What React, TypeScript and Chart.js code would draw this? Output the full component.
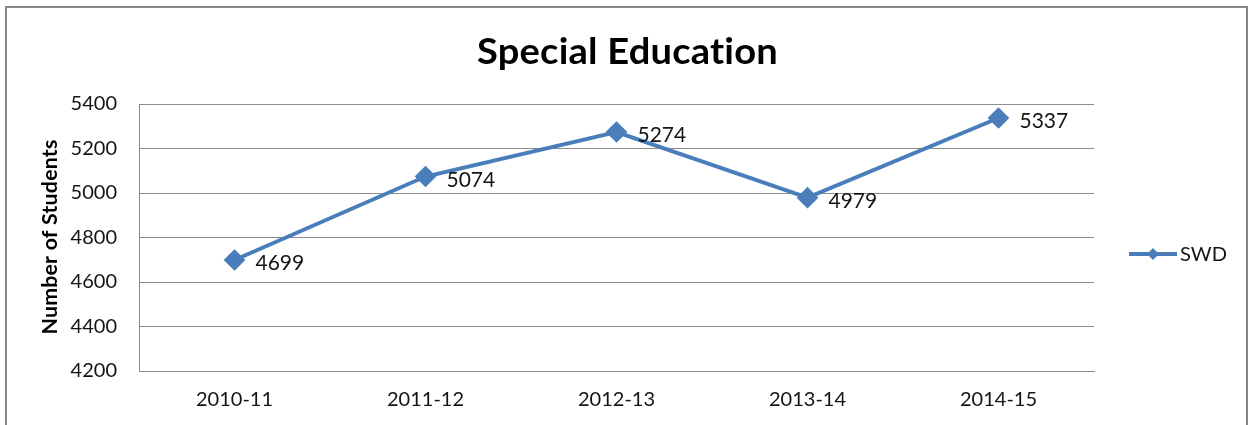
import React, { useEffect, useRef } from "react";
import { Chart, registerables } from "chart.js";

Chart.register(...registerables);

const categories = ["2010-11", "2011-12", "2012-13", "2013-14", "2014-15"];
const swdValues = [4699, 5074, 5274, 4979, 5337];
const yTicks = [4200, 4400, 4600, 4800, 5000, 5200, 5400];
const seriesName = "SWD";
const chartTitle = "Special Education";
const yAxisTitle = "Number of Students";

const LINE_COLOR = "#4A7EBB";
const TEXT_COLOR = "#141414";
const FONT = "Lato, 'Open Sans', sans-serif";

function fitText(ctx: any, text: string, x: number, y: number, width: number) {
  const w = ctx.measureText(text).width;
  ctx.save();
  ctx.translate(x, y);
  ctx.scale(width / w, 1);
  ctx.fillText(text, 0, 0);
  ctx.restore();
}

const decorPlugin = {
  id: "decor",
  afterDraw(chart: any) {
    const ctx = chart.ctx;
    ctx.save();
    // outer border
    ctx.strokeStyle = "#868686";
    ctx.lineWidth = 2;
    ctx.strokeRect(6, 7, 1241, 430);
    // title (no ligatures)
    ctx.fillStyle = "#000";
    ctx.font = `bold 36px ${FONT}`;
    try {
      ctx.textRendering = "optimizeSpeed";
      ctx.letterSpacing = "0.2px";
    } catch (e) {}
    ctx.textAlign = "center";
    ctx.textBaseline = "alphabetic";
    fitText(ctx, chartTitle, 627.5, 64, 301);
    // y-axis title
    ctx.save();
    ctx.translate(57, 237);
    ctx.rotate(-Math.PI / 2);
    ctx.font = `bold 20px ${FONT}`;
    fitText(ctx, yAxisTitle, 0, 0, 195);
    ctx.restore();
    try {
      ctx.letterSpacing = "0px";
    } catch (e) {}
    // data labels
    const meta = chart.getDatasetMeta(0);
    ctx.font = `21px ${FONT}`;
    ctx.textAlign = "left";
    ctx.fillStyle = TEXT_COLOR;
    meta.data.forEach((pt: any, i: number) => {
      ctx.fillText(String(swdValues[i]), pt.x + 21, pt.y + 10);
    });
    // legend
    const ly = 254;
    ctx.strokeStyle = LINE_COLOR;
    ctx.lineWidth = 4;
    ctx.beginPath();
    ctx.moveTo(1129, ly);
    ctx.lineTo(1177, ly);
    ctx.stroke();
    ctx.fillStyle = LINE_COLOR;
    ctx.beginPath();
    ctx.moveTo(1153, ly - 6);
    ctx.lineTo(1159, ly);
    ctx.lineTo(1153, ly + 6);
    ctx.lineTo(1147, ly);
    ctx.closePath();
    ctx.fill();
    ctx.fillStyle = TEXT_COLOR;
    ctx.font = `20px ${FONT}`;
    ctx.textAlign = "left";
    fitText(ctx, seriesName, 1180, 261, 47);
    ctx.restore();
  },
};

export default function App() {
  const ref = useRef<HTMLCanvasElement | null>(null);
  useEffect(() => {
    if (!ref.current) return;
    const chart = new Chart(ref.current, {
      type: "line",
      data: {
        labels: categories,
        datasets: [
          {
            label: seriesName,
            data: swdValues,
            borderColor: LINE_COLOR,
            backgroundColor: LINE_COLOR,
            borderWidth: 4,
            pointStyle: "rectRot",
            pointRadius: 8,
            pointHoverRadius: 8,
            pointBackgroundColor: LINE_COLOR,
            pointBorderColor: LINE_COLOR,
            tension: 0,
          },
        ],
      },
      options: {
        responsive: false,
        devicePixelRatio: 1,
        animation: false,
        layout: { padding: { left: 0, top: 104, right: 155, bottom: 0 } },
        plugins: {
          legend: { display: false },
          title: { display: false },
          tooltip: { enabled: false },
        },
        scales: {
          x: {
            offset: true,
            grid: { display: false, drawTicks: false },
            border: { display: true, color: "#8c8c8c", width: 1 },
            ticks: {
              color: TEXT_COLOR,
              font: { family: FONT, size: 20 },
              padding: 17,
            },
            afterFit: (scale: any) => {
              scale.height = 54;
            },
          },
          y: {
            min: 4200,
            max: 5400,
            afterBuildTicks: (scale: any) => {
              scale.ticks = yTicks.map((v) => ({ value: v }));
            },
            grid: { color: "#8c8c8c", drawTicks: false, lineWidth: 1 },
            border: { display: true, color: "#8c8c8c", width: 1 },
            ticks: {
              color: TEXT_COLOR,
              font: { family: FONT, size: 20 },
              padding: 22,
              callback: (v: any) => String(v),
            },
            afterFit: (scale: any) => {
              scale.width = 139;
            },
          },
        },
      },
      plugins: [decorPlugin],
    });
    return () => chart.destroy();
  }, []);
  return (
    <div style={{ position: "absolute", left: 0, top: 0, width: 1249, height: 425, background: "#fff" }}>
      <canvas ref={ref} width={1249} height={425} style={{ display: "block" }} />
    </div>
  );
}
